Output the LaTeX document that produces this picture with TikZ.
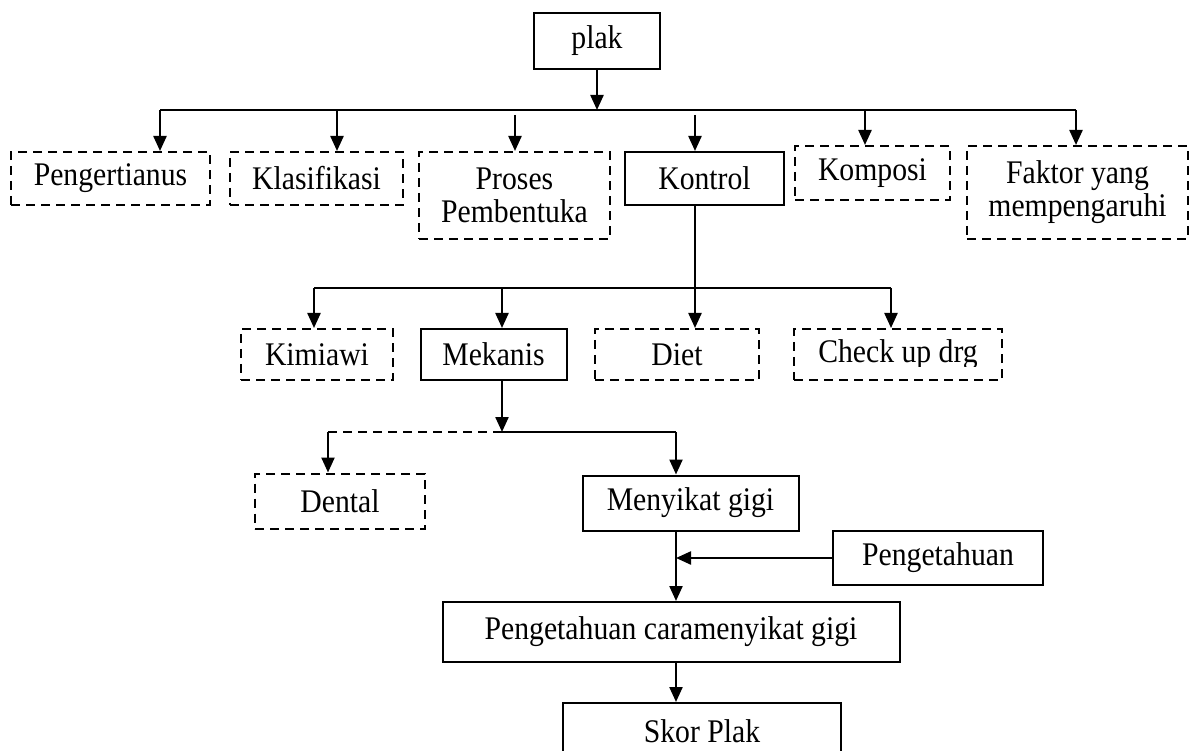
\documentclass[tikz,border=0pt]{standalone}
\usepackage{fontspec}
\setmainfont[FakeStretch=0.9]{Liberation Serif}
\usetikzlibrary{arrows.meta}
\tikzset{box/.style={draw,line width=2pt,inner sep=0pt,align=center,
  font=\fontsize{33}{33}\selectfont},
 dbox/.style={box,dash pattern=on 9pt off 6pt},
 link/.style={line width=2.3pt},
 dlink/.style={link,dash pattern=on 9pt off 6pt},
 arr/.style={link,-{Triangle[width=13pt,length=15pt]}},
 }

\begin{document}
\begin{tikzpicture}[x=1pt,y=-1pt]
\useasboundingbox (0,0) rectangle (1189,751);
% puncak
\node[box,minimum width=126pt,minimum height=56pt] (plak) at (597,41) {plak};
\coordinate (top) at (597,110);
\coordinate (topw) at (160,110);
\coordinate (tope) at (1076,110);
\draw[arr] (plak.south -| top) -- (top);
\draw[link] (topw) -- (tope);
% baris pertama
\node[dbox,minimum width=199pt,minimum height=53pt] (pengertian) at (110.5,178.5) {Pengertianus};
\node[dbox,minimum width=173pt,minimum height=53pt] (klasifikasi) at (316.5,178.5) {Klasifikasi};
\node[dbox,minimum width=191pt,minimum height=87pt] (proses) at (514.5,195.5) {Proses\\Pembentuka};
\node[box,minimum width=159pt,minimum height=53pt] (kontrol) at (704.5,178.5) {Kontrol};
\node[dbox,minimum width=155pt,minimum height=54pt] (komposi) at (872.5,173) {Komposi};
\node[dbox,minimum width=221pt,minimum height=93pt] (faktor) at (1077.5,192.5) {Faktor yang\\mempengaruhi};
\coordinate (a1) at (160,110);
\coordinate (a2) at (337,110);
\coordinate (a3) at (515,115);
\coordinate (a4) at (695,115);
\coordinate (a5) at (865,110);
\draw[arr] (a1) -- (a1 |- pengertian.north);
\draw[arr] (a2) -- (a2 |- klasifikasi.north);
\draw[arr] (a3) -- (a3 |- proses.north);
\draw[arr] (a4) -- (a4 |- kontrol.north);
\draw[arr] (a5) -- (a5 |- komposi.north);
\draw[arr] (tope) -- (tope |- faktor.north);
% kontrol
\coordinate (kv) at (695,205);
\coordinate (l2w) at (314,288);
\coordinate (l2e) at (891,288);
\draw[link] (kv) -- (kv |- l2w);
\draw[link] (l2w) -- (l2e);
\node[dbox,minimum width=152pt,minimum height=51pt] (kimiawi) at (317,354.5) {Kimiawi};
\node[box,minimum width=146pt,minimum height=51pt] (mekanis) at (493.5,354.5) {Mekanis};
\node[dbox,minimum width=164pt,minimum height=51pt] (diet) at (677,354.5) {Diet};
\node[dbox,minimum width=208pt,minimum height=51pt] (checkup) at (898,354.5) {};
\begin{scope}
  \clip (794,330) rectangle (1002,366);
  \node[font=\fontsize{33}{33}\selectfont] (checkuptext) at (checkup.center) {Check up drg};
\end{scope}
\coordinate (b1) at (314,288);
\coordinate (b2) at (502,288);
\coordinate (b3) at (695,288);
\draw[arr] (b1) -- (b1 |- kimiawi.north);
\draw[arr] (b2) -- (b2 |- mekanis.north);
\draw[arr] (b3) -- (b3 |- diet.north);
\draw[arr] (l2e) -- (l2e |- checkup.north);
% mekanis
\coordinate (m3) at (502,432);
\coordinate (l3w) at (328,432);
\coordinate (l3e) at (676,432);
\draw[arr] (mekanis.south -| m3) -- (m3);
\draw[dlink] (l3w) -- (m3);
\draw[link] (m3) -- (l3e);
\node[dbox,minimum width=170pt,minimum height=55pt] (dental) at (340,501) {Dental};
\node[box,minimum width=216pt,minimum height=55pt] (menyikat) at (690.5,503) {Menyikat gigi};
\draw[arr] (l3w) -- (l3w |- dental.north);
\draw[arr] (l3e) -- (l3e |- menyikat.north);
% bawah
\node[box,minimum width=210pt,minimum height=54pt] (tahu) at (938,558) {Pengetahuan};
\node[box,minimum width=457pt,minimum height=60pt] (cara) at (671,632) {Pengetahuan caramenyikat gigi};
\node[box,minimum width=278pt,minimum height=56pt] (skor) at (702,731) {Skor Plak};
\coordinate (mv) at (676,530);
\coordinate (cv) at (676,662);
\draw[arr] (mv) -- (mv |- cara.north);
\draw[arr] (tahu.west) -- (tahu.west -| mv);
\draw[arr] (cv) -- (cv |- skor.north);
\end{tikzpicture}
\end{document}
